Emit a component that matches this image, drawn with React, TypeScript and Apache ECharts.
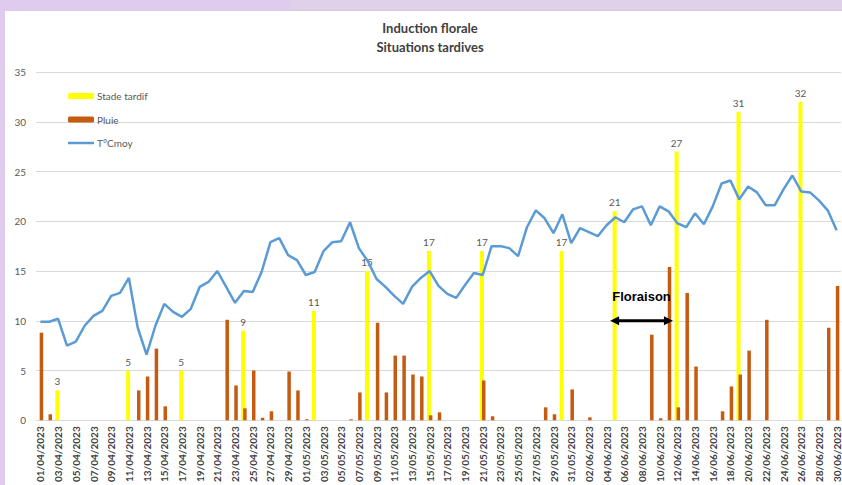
import React, { useEffect, useRef } from "react";
import * as echarts from "echarts";

const dates: string[] = [
  "01/04/2023","02/04/2023","03/04/2023","04/04/2023","05/04/2023","06/04/2023","07/04/2023","08/04/2023","09/04/2023","10/04/2023",
  "11/04/2023","12/04/2023","13/04/2023","14/04/2023","15/04/2023","16/04/2023","17/04/2023","18/04/2023","19/04/2023","20/04/2023",
  "21/04/2023","22/04/2023","23/04/2023","24/04/2023","25/04/2023","26/04/2023","27/04/2023","28/04/2023","29/04/2023","30/04/2023",
  "01/05/2023","02/05/2023","03/05/2023","04/05/2023","05/05/2023","06/05/2023","07/05/2023","08/05/2023","09/05/2023","10/05/2023",
  "11/05/2023","12/05/2023","13/05/2023","14/05/2023","15/05/2023","16/05/2023","17/05/2023","18/05/2023","19/05/2023","20/05/2023",
  "21/05/2023","22/05/2023","23/05/2023","24/05/2023","25/05/2023","26/05/2023","27/05/2023","28/05/2023","29/05/2023","30/05/2023",
  "31/05/2023","01/06/2023","02/06/2023","03/06/2023","04/06/2023","05/06/2023","06/06/2023","07/06/2023","08/06/2023","09/06/2023",
  "10/06/2023","11/06/2023","12/06/2023","13/06/2023","14/06/2023","15/06/2023","16/06/2023","17/06/2023","18/06/2023","19/06/2023",
  "20/06/2023","21/06/2023","22/06/2023","23/06/2023","24/06/2023","25/06/2023","26/06/2023","27/06/2023","28/06/2023","29/06/2023",
  "30/06/2023",
];

// Stade tardif (yellow bars)
const stadeTardif: (number | null)[] = [
  null, null, 3, null, null, null, null, null, null, null,
  5, null, null, null, null, null, 5, null, null, null,
  null, null, null, 9, null, null, null, null, null, null,
  null, 11, null, null, null, null, null, 15, null, null,
  null, null, null, null, 17, null, null, null, null, null,
  17, null, null, null, null, null, null, null, null, 17,
  null, null, null, null, null, 21, null, null, null, null,
  null, null, 27, null, null, null, null, null, null, 31,
  null, null, null, null, null, null, 32, null, null, null,
  null,
];

// Pluie (brown bars)
const pluie: (number | null)[] = [
  8.8, 0.6, null, null, null, null, null, null, null, null,
  null, 3.0, 4.4, 7.2, 1.4, null, null, null, null, null,
  null, 10.1, 3.5, 1.2, 5.0, 0.25, 0.9, null, 4.9, 3.0,
  0.1, null, null, null, null, 0.1, 2.8, null, 9.8, 2.8,
  6.5, 6.5, 4.6, 4.4, 0.5, 0.8, null, null, null, null,
  4.0, 0.4, null, null, null, null, null, 1.3, 0.6, null,
  3.1, null, 0.3, null, null, null, null, null, null, 8.6,
  0.2, 15.4, 1.3, 12.8, 5.4, null, null, 0.9, 3.4, 4.6,
  7.0, null, 10.1, null, null, null, null, null, null, 9.3,
  13.5,
];

// T°Cmoy (blue line)
const tMoy: number[] = [
  9.9, 9.9, 10.2, 7.5, 7.9, 9.5, 10.5, 11.0, 12.5, 12.8,
  14.3, 9.3, 6.6, 9.5, 11.7, 10.9, 10.4, 11.2, 13.4, 13.9,
  15.0, 13.4, 11.8, 13.0, 12.9, 14.9, 17.9, 18.3, 16.6, 16.1,
  14.6, 14.9, 17.0, 17.9, 18.0, 19.9, 17.3, 16.0, 14.2, 13.4,
  12.5, 11.7, 13.4, 14.3, 15.0, 13.5, 12.7, 12.3, 13.6, 14.8,
  14.6, 17.5, 17.5, 17.3, 16.5, 19.4, 21.1, 20.3, 18.8, 20.7,
  17.8, 19.3, 18.9, 18.5, 19.6, 20.4, 19.9, 21.2, 21.5, 19.6,
  21.5, 21.0, 19.8, 19.4, 20.8, 19.7, 21.5, 23.8, 24.1, 22.2,
  23.5, 22.9, 21.6, 21.6, 23.2, 24.6, 23.0, 22.9, 22.1, 21.1,
  19.1,
];

const titleLines = ["Induction florale", "Situations tardives"];
const seriesNames = ["Stade tardif", "Pluie", "T°Cmoy"];
const annotationText = "Floraison";
// annotation in data coordinates (category index, value)
const arrowFrom = 64.4;
const arrowTo = 71.5;
const arrowValue = 10;
const annotationTextValue = 12.4;

export default function App() {
  const ref = useRef<HTMLDivElement>(null);

  useEffect(() => {
    if (!ref.current) return;
    const chart = echarts.init(ref.current, null, { renderer: "svg" });
    const option: any = {
      animation: false,
      backgroundColor: "#ffffff",
      graphic: [
        { id: "bandTop", type: "rect", z: -10, shape: { x: 0, y: 0, width: 290, height: 11 }, style: { fill: "#dfcbed" } },
        { id: "bandTopR", type: "rect", z: -10, shape: { x: 290, y: 0, width: 552, height: 10 }, style: { fill: "#e0d1ea" } },
        { id: "bandTopRLine", type: "rect", z: -10, shape: { x: 290, y: 10, width: 552, height: 1 }, style: { fill: "#d2c8d6" } },
        { id: "bandLeft", type: "rect", z: -10, shape: { x: 0, y: 0, width: 5, height: 485 }, style: { fill: "#dfcbed" } },
        {
          id: "t1", type: "text", x: 430, y: 28,
          style: { text: titleLines[0], textAlign: "center", textVerticalAlign: "middle", fontFamily: "Lato", fontSize: 13, fontWeight: "bold", fill: "#404040" },
        },
        {
          id: "t2", type: "text", x: 430, y: 47,
          style: { text: titleLines[1], textAlign: "center", textVerticalAlign: "middle", fontFamily: "Lato", fontSize: 13, fontWeight: "bold", fill: "#404040" },
        },
      ],
      legend: {
        orient: "vertical",
        left: 68,
        top: 90,
        padding: 0,
        itemWidth: 26,
        itemHeight: 6,
        itemGap: 11.5,
        data: [
          seriesNames[0],
          seriesNames[1],
          { name: seriesNames[2], icon: "path://M0,0L26,0L26,2.5L0,2.5Z" },
        ],
        textStyle: { fontFamily: "Lato", fontSize: 10, color: "#595959", lineHeight: 12, padding: [0, 0, 0, -2] },
      },
      grid: { left: 36, right: 1, top: 72, bottom: 63, containLabel: false },
      xAxis: {
        type: "category",
        data: dates,
        boundaryGap: true,
        axisLine: { show: true, lineStyle: { color: "#d9d9d9", width: 1 } },
        axisTick: { show: false },
        axisLabel: {
          interval: 1,
          rotate: 90,
          margin: 6,
          fontFamily: "Lato",
          fontSize: 10,
          fontWeight: "bold",
          color: "#404040",
        },
      },
      yAxis: {
        type: "value",
        min: 0,
        max: 35,
        interval: 5,
        axisLine: { show: false },
        axisTick: { show: false },
        axisLabel: { fontFamily: "Lato", fontSize: 10, color: "#595959", margin: 10 },
        splitLine: { lineStyle: { color: "#d9d9d9", width: 1 } },
      },
      series: [
        {
          name: seriesNames[0],
          type: "bar",
          data: stadeTardif,
          barWidth: 4,
          itemStyle: { color: "#ffff00" },
          label: {
            show: true,
            position: "top",
            distance: 4,
            fontFamily: "Lato",
            fontSize: 10,
            color: "#595959",
          },
        },
        {
          name: seriesNames[1],
          type: "bar",
          data: pluie,
          barWidth: 3.5,
          barGap: "-50%",
          itemStyle: { color: "#c55a11" },
        },
        {
          name: seriesNames[2],
          type: "line",
          data: tMoy,
          symbol: "none",
          lineStyle: { color: "#5b9bd5", width: 2.5 },
          itemStyle: { color: "#5b9bd5" },
          z: 5,
        },
      ],
    };
    chart.setOption(option);

    // Annotation placed via the chart's own scales
    const p0 = chart.convertToPixel({ xAxisIndex: 0, yAxisIndex: 0 }, [0, arrowValue]) as number[];
    const p1 = chart.convertToPixel({ xAxisIndex: 0, yAxisIndex: 0 }, [1, annotationTextValue]) as number[];
    const step = p1[0] - p0[0];
    const xa = p0[0] + step * arrowFrom;
    const xb = p0[0] + step * arrowTo;
    const ya = p0[1];
    const xt = (xa + xb) / 2;
    const yt = p1[1];
    const head = 9;
    const hw = 4.5;
    chart.setOption({
      graphic: [
        { id: "bandTop" }, { id: "bandTopR" }, { id: "bandTopRLine" }, { id: "bandLeft" }, { id: "t1" }, { id: "t2" },
        {
          id: "arrowLine", type: "line", z: 20,
          shape: { x1: xa + head - 1, y1: ya, x2: xb - head + 1, y2: ya },
          style: { stroke: "#000000", lineWidth: 3 },
        },
        {
          id: "arrowL", type: "polygon", z: 20,
          shape: { points: [[xa, ya], [xa + head, ya - hw], [xa + head, ya + hw]] },
          style: { fill: "#000000" },
        },
        {
          id: "arrowR", type: "polygon", z: 20,
          shape: { points: [[xb, ya], [xb - head, ya - hw], [xb - head, ya + hw]] },
          style: { fill: "#000000" },
        },
        {
          id: "floraison", type: "text", z: 20, x: xt, y: yt,
          style: { text: annotationText, textAlign: "center", textVerticalAlign: "middle", fontFamily: "Liberation Sans", fontSize: 13, fontWeight: "bold", fill: "#000000" },
        },
      ],
    });

    return () => {
      chart.dispose();
    };
  }, []);

  return (
    <div
      ref={ref}
      style={{ position: "fixed", left: 0, top: 0, width: 842, height: 485, background: "#ffffff" }}
    />
  );
}
